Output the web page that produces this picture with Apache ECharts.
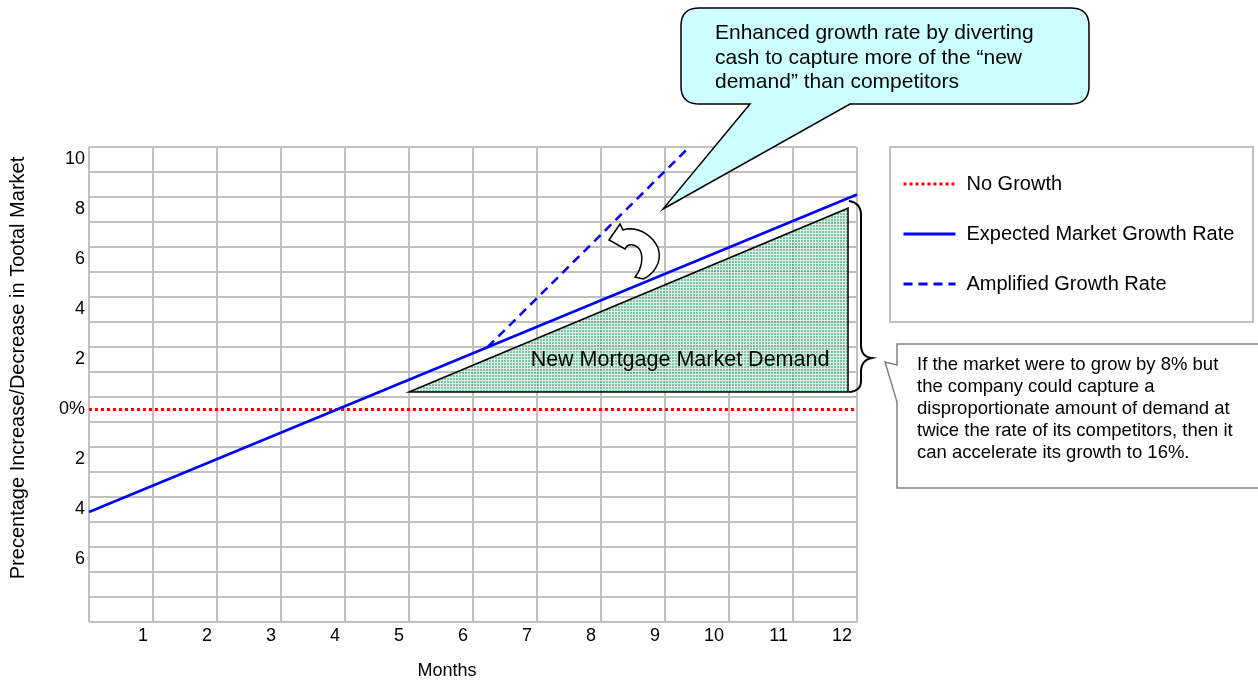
<!DOCTYPE html>
<html>
<head>
<meta charset="utf-8">
<title>Market growth</title>
<script src="https://cdn.jsdelivr.net/npm/echarts@6.0.0/dist/echarts.min.js"></script>
<style>
  html, body { margin: 0; padding: 0; background: #fff; }
  #chart { width: 1258px; height: 681px; }
</style>
</head>
<body>
<div id="chart"></div>
<script>
// months along x, % change in total market along y
const monthTicks = [1, 2, 3, 4, 5, 6, 7, 8, 9, 10, 11, 12];
const yTicks = [-6, -4, -2, 0, 2, 4, 6, 8, 10];

const noGrowthX = [0, 12];
const noGrowthY = [0, 0];
const expectedX = [0, 12];
const expectedY = [-4.1, 8.6];
const amplifiedX = [6.23, 9.38];
const amplifiedY = [2.5, 10.5];
// shaded "new demand" triangle
const demandX = [5, 11.86, 11.86];
const demandY = [0.7, 8.05, 0.7];

const FONT = '"Liberation Sans", Arial, Helvetica, sans-serif';
const GRID = '#c0c0c0';

function pairs(xs, ys) {
    return xs.map((x, i) => [x, ys[i]]);
}

// turn a small list of M/L/Q/C commands into points (graphic has no svg path type)
function trace(cmds) {
    let pts = [];
    let cur = [0, 0];
    const N = 10;
    cmds.forEach(c => {
        if (c[0] === 'M' || c[0] === 'L') {
            cur = [c[1], c[2]];
            pts.push(cur);
        } else if (c[0] === 'Q') {
            let p0 = cur;
            for (let i = 1; i <= N; i++) {
                let t = i / N, u = 1 - t;
                pts.push([u * u * p0[0] + 2 * u * t * c[1] + t * t * c[3],
                          u * u * p0[1] + 2 * u * t * c[2] + t * t * c[4]]);
            }
            cur = [c[3], c[4]];
        } else if (c[0] === 'C') {
            let p0 = cur;
            for (let i = 1; i <= N; i++) {
                let t = i / N, u = 1 - t;
                pts.push([u * u * u * p0[0] + 3 * u * u * t * c[1] + 3 * u * t * t * c[3] + t * t * t * c[5],
                          u * u * u * p0[1] + 3 * u * u * t * c[2] + 3 * u * t * t * c[4] + t * t * t * c[6]]);
            }
            cur = [c[5], c[6]];
        }
    });
    return pts;
}

// small green/white check, like the original fill
function hatch() {
    let c = document.createElement('canvas');
    c.width = 3;
    c.height = 3;
    let ctx = c.getContext('2d');
    ctx.fillStyle = 'rgba(60,165,115,0.65)';
    ctx.fillRect(0, 0, 3, 3);
    ctx.fillStyle = 'rgba(255,255,255,0.7)';
    ctx.fillRect(2, 0, 1, 3);
    ctx.fillRect(0, 2, 2, 1);
    return c;
}
const hatchCanvas = hatch();

const bracePts = trace([
    ['M', 849, 201], ['Q', 861, 203, 861, 215], ['L', 861, 345], ['Q', 861, 357, 872, 358],
    ['Q', 861, 360, 861, 372], ['L', 861, 381], ['Q', 861, 391, 849, 392]
]);
const arrowPts = trace([
    ['M', 609, 240], ['L', 620, 224], ['L', 623, 230], ['C', 634, 226, 651, 232, 658, 248],
    ['C', 663, 262, 653, 275, 643, 279], ['L', 635, 277], ['C', 641, 270, 644, 258, 640, 250],
    ['C', 636, 244, 630, 244, 627, 246], ['L', 625, 249]
]);
const topCalloutPts = trace([
    ['M', 699, 8], ['L', 1071, 8], ['Q', 1089, 8, 1089, 26], ['L', 1089, 86], ['Q', 1089, 104, 1071, 104],
    ['L', 850, 104], ['L', 663, 209], ['L', 750, 104], ['L', 699, 104], ['Q', 681, 104, 681, 86],
    ['L', 681, 26], ['Q', 681, 8, 699, 8]
]);
const sideCalloutPts = [[897, 344], [1262, 344], [1262, 488], [897, 488], [897, 402], [885, 362], [897, 365]];

let chart = echarts.init(document.getElementById('chart'));

const option = {
    animation: false,
    textStyle: { fontFamily: FONT },
    grid: { left: 89, top: 147, width: 768, height: 475 },
    legend: {
        orient: 'vertical',
        left: 902,
        top: 174,
        padding: 0,
        itemWidth: 52,
        itemHeight: 14,
        itemGap: 30,
        selectedMode: false,
        data: ['No Growth', 'Expected Market Growth Rate', 'Amplified Growth Rate'],
        itemStyle: { opacity: 0 },
        lineStyle: { width: 3 },
        textStyle: { fontSize: 20, color: '#000', fontFamily: FONT, padding: [0, 0, 0, 6] },
        z: 20
    },
    xAxis: {
        type: 'value',
        min: 0,
        max: 12,
        interval: 1,
        axisLine: { show: false },
        axisTick: { show: false },
        splitLine: { lineStyle: { color: GRID, width: 2 } },
        axisLabel: {
            customValues: monthTicks,
            fontSize: 18,
            color: '#000',
            align: 'right',
            padding: [0, 5, 0, 0],
            margin: 5
        }
    },
    yAxis: [
        {
            type: 'value',
            min: -8.5,
            max: 10.5,
            axisLine: { show: false },
            axisTick: { show: false },
            splitLine: { show: false },
            axisLabel: {
                customValues: yTicks,
                formatter: v => (v === 0 ? '0%' : String(Math.abs(v))),
                fontSize: 18,
                color: '#000',
                margin: 4
            }
        },
        {
            // only for the 1-unit grid rows
            type: 'value',
            position: 'left',
            min: 0,
            max: 19,
            interval: 1,
            axisLine: { show: false },
            axisTick: { show: false },
            axisLabel: { show: false },
            splitLine: { lineStyle: { color: GRID, width: 2 } }
        }
    ],
    series: [
        {
            name: 'New Mortgage Market Demand',
            type: 'custom',
            data: pairs(demandX, demandY),
            renderItem: function (params, api) {
                if (params.dataIndex !== 0) return null;
                let pts = demandX.map((x, i) => api.coord([x, demandY[i]]));
                return {
                    type: 'polygon',
                    shape: { points: pts },
                    style: {
                        fill: { image: hatchCanvas, repeat: 'repeat' },
                        stroke: '#000',
                        lineWidth: 1.5
                    }
                };
            },
            z: 2
        },
        {
            name: 'No Growth',
            type: 'line',
            data: pairs(noGrowthX, noGrowthY),
            symbol: 'none',
            itemStyle: { color: '#ff0000' },
            lineStyle: { color: '#ff0000', width: 3, type: [3, 3] },
            z: 3
        },
        {
            name: 'Expected Market Growth Rate',
            type: 'line',
            data: pairs(expectedX, expectedY),
            symbol: 'none',
            itemStyle: { color: '#0000ff' },
            lineStyle: { color: '#0000ff', width: 2.5 },
            z: 3
        },
        {
            name: 'Amplified Growth Rate',
            type: 'line',
            data: pairs(amplifiedX, amplifiedY),
            symbol: 'none',
            itemStyle: { color: '#0000ff' },
            lineStyle: { color: '#0000ff', width: 2.5, type: [9, 6] },
            z: 3
        }
    ],
    graphic: [
        {
            type: 'text',
            x: 18,
            y: 368,
            rotation: Math.PI / 2,
            style: {
                text: 'Precentage Increase/Decrease in Tootal Market',
                fontSize: 20,
                fontFamily: FONT,
                fill: '#000',
                align: 'center',
                verticalAlign: 'middle'
            }
        },
        {
            type: 'text',
            x: 447,
            y: 671,
            style: {
                text: 'Months',
                fontSize: 18,
                fontFamily: FONT,
                fill: '#000',
                align: 'center',
                verticalAlign: 'middle'
            }
        },
        {
            type: 'text',
            x: 680,
            y: 360,
            z: 5,
            style: {
                text: 'New Mortgage Market Demand',
                fontSize: 21.5,
                fontFamily: FONT,
                fill: '#000',
                align: 'center',
                verticalAlign: 'middle'
            }
        },
        // legend frame
        {
            type: 'rect',
            z: 1,
            shape: { x: 890, y: 147, width: 363, height: 175 },
            style: { fill: '#fff', stroke: GRID, lineWidth: 2 }
        },
        // brace next to the triangle
        {
            type: 'polyline',
            z: 5,
            shape: { points: bracePts },
            style: { fill: null, stroke: '#000', lineWidth: 2 }
        },
        // curved arrow
        {
            type: 'polygon',
            z: 5,
            shape: { points: arrowPts },
            style: { fill: '#fff', stroke: '#000', lineWidth: 1.5 }
        },
        // top callout
        {
            type: 'polygon',
            z: 10,
            shape: { points: topCalloutPts },
            style: { fill: '#ccffff', stroke: '#000', lineWidth: 1.5 }
        },
        {
            type: 'text',
            x: 715,
            y: 21,
            z: 11,
            style: {
                text: 'Enhanced growth rate by diverting\ncash to capture more of the \u201cnew\ndemand\u201d than competitors',
                fontSize: 21,
                lineHeight: 24.5,
                fontFamily: FONT,
                fill: '#000',
                align: 'left',
                verticalAlign: 'top'
            }
        },
        // right callout
        {
            type: 'polygon',
            z: 10,
            shape: { points: sideCalloutPts },
            style: { fill: '#fff', stroke: '#808080', lineWidth: 1.5 }
        },
        {
            type: 'text',
            x: 917,
            y: 354,
            z: 11,
            style: {
                text: 'If the market were to grow by 8% but\nthe company could capture a\ndisproportionate amount of demand at\ntwice the rate of its competitors, then it\ncan accelerate its growth to 16%.',
                fontSize: 18.5,
                lineHeight: 22,
                fontFamily: FONT,
                fill: '#000',
                align: 'left',
                verticalAlign: 'top'
            }
        }
    ]
};

chart.setOption(option);
</script>
</body>
</html>
